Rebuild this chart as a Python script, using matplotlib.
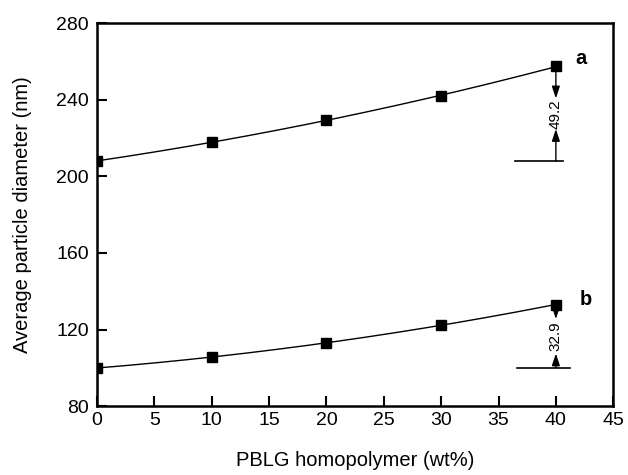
import numpy as np
import matplotlib.pyplot as plt

plt.rcParams['font.family'] = ['Liberation Sans', 'DejaVu Sans']

x = np.array([0, 10, 20, 30, 40])
size_a = np.array([208, 218, 229.5, 242, 257.5])
size_b = np.array([100, 105.5, 113, 122.5, 133])
labels = ['a', 'b']
label_pos = [(42.2, 261.5), (42.6, 135.5)]
diffs = ['49.2', '32.9']
gaps = [8, 9]
base_spans = [(36.4, 40.6), (36.6, 41.2)]

fig = plt.figure(figsize=(6.28, 4.75), dpi=100)
ax = fig.add_axes([0.1545, 0.145, 0.822, 0.806])

xs = np.linspace(0, 40, 200)
for y, lab, lp, d, g, bs in zip([size_a, size_b], labels, label_pos, diffs, gaps, base_spans):
    c = np.polyfit(x, y, 2)
    ax.plot(xs, np.polyval(c, xs), color='black', lw=1)
    ax.plot(x, y, 's', color='black', ms=6.5)
    ax.text(lp[0], lp[1], lab, fontsize=14.5, fontweight='bold', ha='center', va='center')
    # difference marker
    ax.plot(bs, [y[0], y[0]], color='black', lw=1.2)
    mid = (y[0] + y[-1]) / 2
    ax.annotate('', xy=(40, mid + g), xytext=(40, y[-1]),
                arrowprops=dict(arrowstyle='-|>,head_length=0.6,head_width=0.2', color='black', lw=1,
                                mutation_scale=12, shrinkA=4, shrinkB=0))
    ax.annotate('', xy=(40, mid - g), xytext=(40, y[0]),
                arrowprops=dict(arrowstyle='-|>,head_length=0.6,head_width=0.2', color='black', lw=1,
                                mutation_scale=12, shrinkA=0, shrinkB=0))
    ax.text(40, mid, d, rotation=90, fontsize=11, ha='center', va='center')

ax.set_xlim(0, 45)
ax.set_ylim(80, 280)
ax.set_xticks(np.arange(0, 46, 5))
ax.set_yticks(np.arange(80, 281, 40))
ax.tick_params(direction='in', length=7, width=1.5, labelsize=14)
ax.tick_params(axis='y', pad=6)
ax.tick_params(axis='x', pad=4)
for s in ax.spines.values():
    s.set_linewidth(1.8)
ax.set_xlabel('PBLG homopolymer (wt%)', fontsize=14.5, labelpad=16)
ax.set_ylabel('Average particle diameter (nm)', fontsize=14.5, labelpad=17)

plt.savefig('out.png')
